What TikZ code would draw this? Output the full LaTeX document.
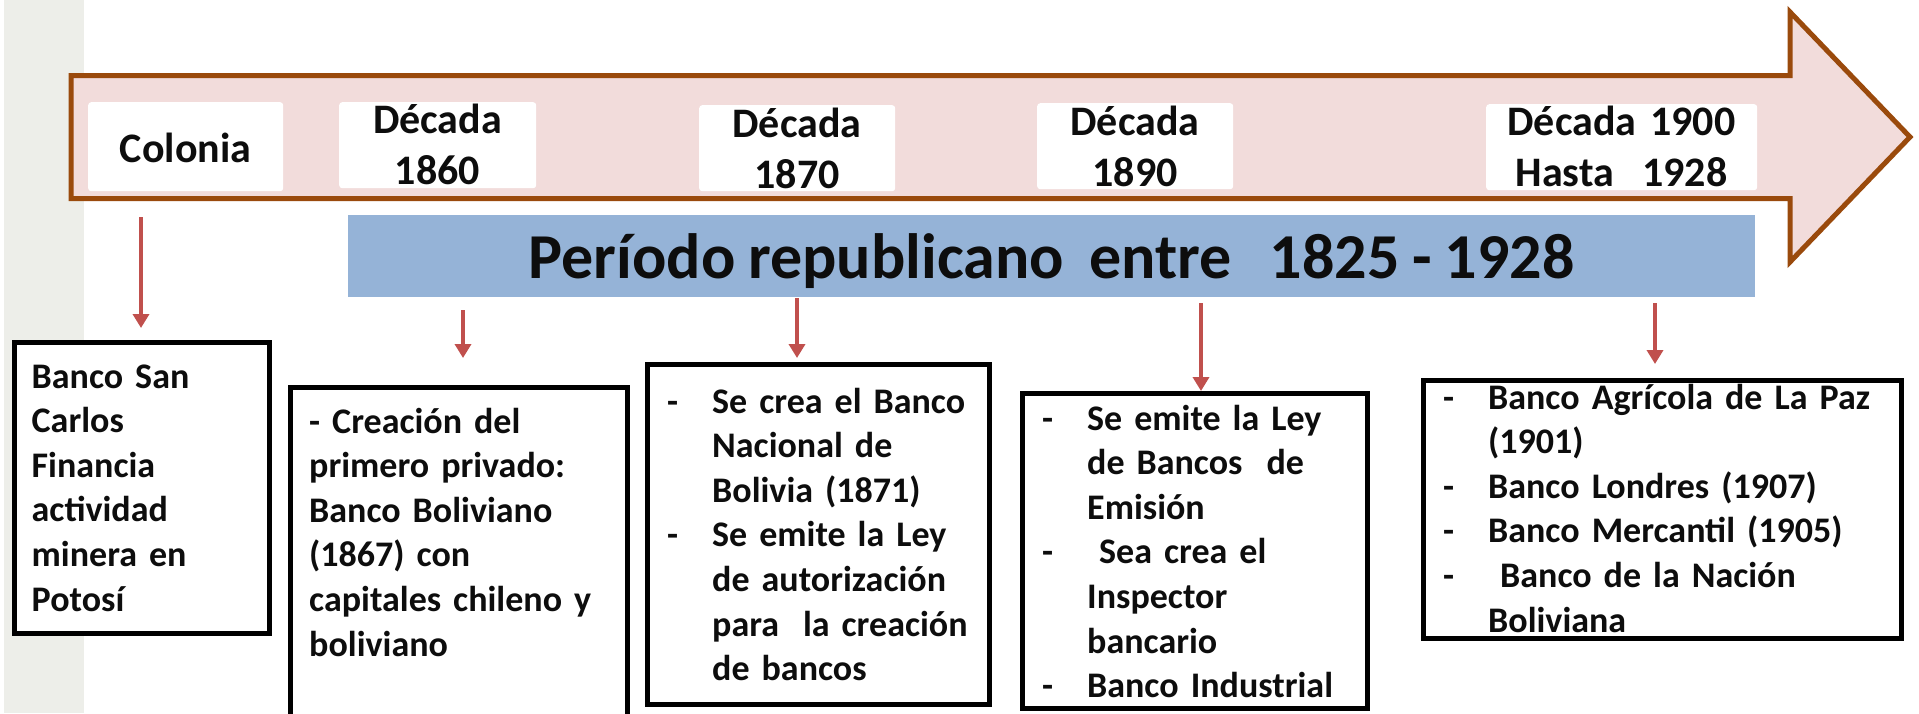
\documentclass[tikz,border=0pt]{standalone}
\usepackage{fontspec}
\setmainfont{Carlito}[WordSpace=0.88]
\usetikzlibrary{arrows.meta}
\definecolor{brownline}{HTML}{9A4A0C}
\definecolor{pinkfill}{HTML}{F2DCDB}
\definecolor{bluefill}{HTML}{95B3D7}
\definecolor{redarr}{HTML}{C0504D}
\definecolor{graystrip}{HTML}{EDEEE9}
\definecolor{txt}{HTML}{0D0D0D}
\begin{document}
\begin{tikzpicture}[x=1pt,y=-1pt,
  hdrbox/.style={fill=white, rounded corners=3pt, inner sep=0pt, anchor=north west},
  hdrtext/.style={font=\fontsize{42}{51}\selectfont\bfseries, text=txt, inner sep=0pt, align=center, text width=280pt, anchor=base},
  infobox/.style={draw=black, line width=5pt, fill=white, inner sep=0pt, anchor=north west},
  infotext/.style={font=\fontsize{36}{44.6}\selectfont\bfseries, text=txt, inner sep=0pt, align=left, text width=460pt, anchor=base west},
  redarrow/.style={draw=redarr, line width=4pt, -{Triangle[width=16pt,length=14pt]}}
]
\useasboundingbox (0,0) rectangle (1919,713);
\clip (0,0) rectangle (1919,713);
\fill[graystrip] (4,0) rectangle (84,713);
% big timeline arrow
\draw[brownline, line width=5pt, fill=pinkfill, line join=miter]
  (71,75.5) -- (1790,75.5) -- (1790,12) -- (1910,137) -- (1790,262) -- (1790,198.5) -- (71,198.5) -- cycle;
% header boxes
\node[hdrbox, minimum width=195pt, minimum height=89pt] (h1) at (88,102) {};
\node[hdrbox, minimum width=197pt, minimum height=86pt] (h2) at (339,102) {};
\node[hdrbox, minimum width=196pt, minimum height=86pt] (h3) at (699,105) {};
\node[hdrbox, minimum width=196pt, minimum height=86pt] (h4) at (1037,103) {};
\node[hdrbox, minimum width=271pt, minimum height=86pt] (h5) at (1486,104) {};
\node[hdrtext] (t1) at (185.5,162) {Colonia};
\node[hdrtext] (t2) at (437.5,133) {Década\\1860};
\node[hdrtext] (t3) at (797,137) {Década\\1870};
\node[hdrtext] (t4) at (1135,135) {Década\\1890};
\node[hdrtext] (t5) at (1621.5,135) {Década 1900\\Hasta\ \ 1928};
% period bar
\node[fill=bluefill, inner sep=0pt, anchor=north west, minimum width=1407pt, minimum height=82pt] (period) at (348,215) {};
\node[font=\fontsize{64}{76}\selectfont\bfseries, text=txt, inner sep=0pt, anchor=base] (ptext) at (1051.5,278) {Período republicano\ \ entre\ \ \ 1825 - 1928};
% info boxes
\node[infobox, minimum width=255pt, minimum height=291pt] (b1) at (12,340) {};
\node[infobox, minimum width=337pt, minimum height=380pt] (b2) at (288,385) {};
\node[infobox, minimum width=342pt, minimum height=340pt] (b3) at (645,362) {};
\node[infobox, minimum width=345pt, minimum height=315pt] (b4) at (1020,391) {};
\node[infobox, minimum width=478pt, minimum height=258pt] (b5) at (1421,378) {};
\node[infotext] (x1) at (31.5,388) {Banco San\\Carlos\\Financia\\actividad\\minera en\\Potosí};
\node[infotext] (x2) at (309,433) {- Creación del\\primero privado:\\Banco Boliviano\\(1867) con\\capitales chileno y\\boliviano};
\node[infotext] (x3) at (667,413) {\makebox[45pt][l]{-}Se crea el Banco\\\hspace*{45pt}Nacional de\\\hspace*{45pt}Bolivia (1871)\\\makebox[45pt][l]{-}Se emite la Ley\\\hspace*{45pt}de autorización\\\hspace*{45pt}para\ \ la creación\\\hspace*{45pt}de bancos};
\node[infotext] (x4) at (1042,430) {\makebox[45pt][l]{-}Se emite la Ley\\\hspace*{45pt}de Bancos\ \ de\\\hspace*{45pt}Emisión\\\makebox[45pt][l]{-}\ Sea crea el\\\hspace*{45pt}Inspector\\\hspace*{45pt}bancario\\\makebox[45pt][l]{-}Banco Industrial};
\node[infotext] (x5) at (1443,409) {\makebox[45pt][l]{-}Banco Agrícola de La Paz\\\hspace*{45pt}(1901)\\\makebox[45pt][l]{-}Banco Londres (1907)\\\makebox[45pt][l]{-}Banco Mercantil (1905)\\\makebox[45pt][l]{-}\ Banco de la Nación\\\hspace*{45pt}Boliviana};
% arrows
\coordinate (c1) at (141,217);
\coordinate (c2) at (463,310);
\coordinate (c3) at (797,298);
\coordinate (c4) at (1201,303);
\coordinate (c5) at (1655,303);
\draw[redarrow, shorten >=12pt] (c1) -- (c1 |- b1.north);
\draw[redarrow, shorten >=27pt] (c2) -- (c2 |- b2.north);
\draw[redarrow, shorten >=4pt] (c3) -- (c3 |- b3.north);
\draw[redarrow, shorten >=0pt] (c4) -- (c4 |- b4.north);
\draw[redarrow, shorten >=14pt] (c5) -- (c5 |- b5.north);
\end{tikzpicture}
\end{document}
